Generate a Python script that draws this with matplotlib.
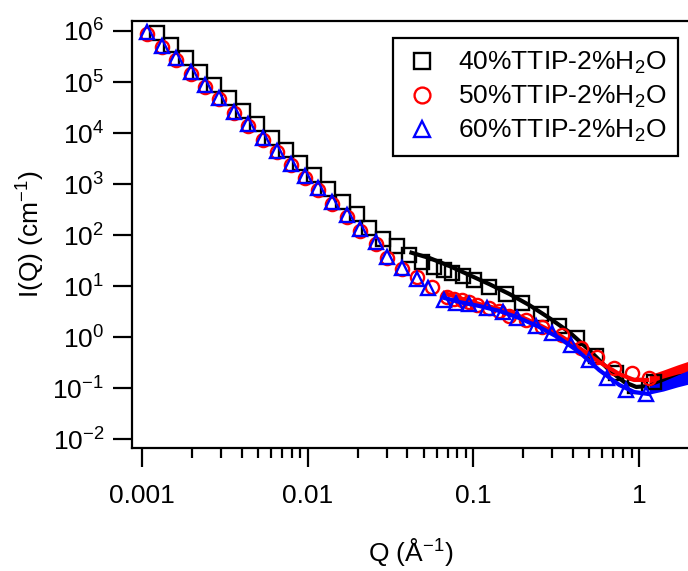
import numpy as np
import matplotlib
matplotlib.use("Agg")
import matplotlib.pyplot as plt
from matplotlib.ticker import FixedLocator, NullLocator, NullFormatter

plt.rcParams['font.family'] = ['Liberation Sans', 'DejaVu Sans']
plt.rcParams['mathtext.fontset'] = 'custom'
plt.rcParams['mathtext.rm'] = 'Liberation Sans'
plt.rcParams['mathtext.it'] = 'Liberation Sans'
plt.rcParams['mathtext.default'] = 'regular'

# 40%TTIP - squares
q_40 = [0.00123, 0.00150, 0.00184, 0.00224, 0.00271, 0.00334, 0.00406, 0.00493,
        0.00607, 0.00737, 0.00895, 0.01087, 0.01318, 0.01625, 0.01972, 0.0236,
        0.0283, 0.0344, 0.0411, 0.0493, 0.0582, 0.0669, 0.0747, 0.0870, 0.1014,
        0.1247, 0.158, 0.197, 0.257, 0.330, 0.424, 0.551, 0.727, 0.946, 1.231]
i_40 = [9.3e5, 5.2e5, 2.9e5, 1.6e5, 8.9e4, 4.75e4, 2.75e4, 1.53e4,
        8.15e3, 4.55e3, 2.64e3, 1.47e3, 815, 452, 262, 140,
        85, 62, 40.5, 29.6, 23.6, 20.6, 18.0, 15.4, 13.1,
        9.55, 6.97, 4.64, 2.82, 1.64, 0.955, 0.424, 0.197, 0.109, 0.131]

# 50%TTIP - circles
q_50 = [0.00107, 0.00132, 0.00160, 0.00197, 0.00240, 0.00291, 0.00358, 0.00435,
        0.00536, 0.00650, 0.00790, 0.00960, 0.01148, 0.01395, 0.01718, 0.02056,
        0.0257, 0.0303, 0.0373, 0.0454, 0.0566, 0.0697, 0.0768, 0.0848, 0.0946,
        0.1057, 0.1247, 0.1435, 0.165, 0.209, 0.261, 0.344, 0.448, 0.559, 0.707,
        0.908, 1.148]
i_50 = [8.9e5, 4.8e5, 2.7e5, 1.45e5, 8.1e4, 4.55e4, 2.45e4, 1.38e4,
        7.4e3, 4.15e3, 2.34e3, 1.32e3, 775, 412, 230, 122,
        68, 35, 21.5, 15.0, 9.5, 6.1, 5.6, 5.3, 4.85,
        4.24, 3.70, 3.24, 2.58, 2.15, 1.57, 1.09, 0.61, 0.405, 0.247,
        0.197, 0.157]

# 60%TTIP - triangles
q_60 = [0.00107, 0.00132, 0.00160, 0.00197, 0.00240, 0.00291, 0.00358, 0.00435,
        0.00536, 0.00650, 0.00790, 0.00960, 0.01148, 0.01395, 0.01718, 0.02056,
        0.0257, 0.0303, 0.0373, 0.0454, 0.0529, 0.0669, 0.0790, 0.0946, 0.121,
        0.150, 0.184, 0.240, 0.299, 0.389, 0.500, 0.641, 0.835, 1.10]
i_60 = [9.56e5, 5.15e5, 2.89e5, 1.56e5, 8.73e4, 4.90e4, 2.64e4, 1.48e4,
        7.98e3, 4.48e3, 2.52e3, 1.42e3, 835, 444, 247, 131,
        73, 37, 22.5, 13.7, 9.1, 5.3, 4.75, 4.4, 3.7,
        3.1, 2.36, 1.65, 1.20, 0.70, 0.354, 0.157, 0.091, 0.076]

# model fits
qf_40 = [0.0423, 0.0543, 0.0717, 0.0946, 0.1247, 0.165, 0.217, 0.287, 0.379,
         0.500, 0.659, 0.813, 0.960, 1.117]
if_40 = [45, 35.4, 24.7, 16.4, 10.9, 6.97, 4.24, 2.36, 1.25,
         0.556, 0.225, 0.131, 0.105, 0.109]
qf_50 = [0.0669, 0.0824, 0.1087, 0.1435, 0.189, 0.250, 0.330, 0.435, 0.574,
         0.759, 0.933, 1.117]
if_50 = [7.3, 5.82, 4.44, 3.54, 2.58, 1.72, 1.09, 0.61, 0.324,
         0.188, 0.144, 0.144]
qf_60 = [0.0669, 0.0824, 0.1087, 0.1435, 0.189, 0.250, 0.330, 0.435, 0.574,
         0.759, 0.933, 1.148]
if_60 = [5.82, 4.85, 4.05, 3.24, 2.36, 1.57, 0.955, 0.508, 0.225,
         0.115, 0.0835, 0.076]

# high-Q data (dense, noisy) shown as bands
q_hi = [1.15, 1.4, 1.7, 2.0]
lo_40 = [0.091, 0.109, 0.131, 0.157]
hi_40 = [0.137, 0.172, 0.215, 0.258]
lo_50 = [0.125, 0.157, 0.188, 0.206]
hi_50 = [0.180, 0.225, 0.283, 0.338]
lo_60 = [0.076, 0.0873, 0.105, 0.120]
hi_60 = [0.109, 0.137, 0.180, 0.225]

labels = ['40%TTIP-2%H$_2$O', '50%TTIP-2%H$_2$O', '60%TTIP-2%H$_2$O']
colors = ['black', 'red', 'blue']
markers = ['s', 'o', '^']

fig = plt.figure(figsize=(6.88, 5.71), dpi=100)
ax = fig.add_axes([132 / 688, 123 / 571, 557 / 688, 427 / 571])

series = [(q_40, i_40, qf_40, if_40, lo_40, hi_40),
          (q_50, i_50, qf_50, if_50, lo_50, hi_50),
          (q_60, i_60, qf_60, if_60, lo_60, hi_60)]

handles = []
for (q, i, qf, yf, lo, hi), c, m, lab in zip(series, colors, markers, labels):
    ax.fill_between(q_hi, lo, hi, color=c, lw=0)
    h, = ax.plot(q, i, ls='none', marker=m, ms=9.5, mfc='none', mec=c, mew=1.7, label=lab)
    ax.plot(qf, yf, color=c, lw=3)
    handles.append(h)

ax.set_xscale('log')
ax.set_yscale('log')
ax.set_xlim(10 ** -3.06, 10 ** 0.301)
ax.set_ylim(10 ** -2.176, 10 ** 6.196)

ax.set_xticks([0.001, 0.01, 0.1, 1])
ax.set_xticklabels(['0.001', '0.01', '0.1', '1'])
minor_x = [m * 10.0 ** k for k in range(-3, 0) for m in range(2, 10)]
ax.xaxis.set_minor_locator(FixedLocator(minor_x))
ax.xaxis.set_minor_formatter(NullFormatter())
ax.set_yticks([10.0 ** k for k in range(-2, 7)])
ax.yaxis.set_minor_locator(NullLocator())

ax.tick_params(axis='both', which='major', direction='out', length=14, width=1.6,
               labelsize=19, pad=12)
ax.tick_params(axis='x', which='minor', direction='out', length=7.5, width=1.6)
ax.tick_params(axis='y', pad=6)
for s in ['left', 'bottom', 'top']:
    ax.spines[s].set_linewidth(1.6)
ax.spines['right'].set_visible(False)

ax.set_xlabel('Q (Å$^{-1}$)', fontsize=19, labelpad=20)
ax.set_ylabel('I(Q) (cm$^{-1}$)', fontsize=19, labelpad=4)

leg = ax.legend(handles=handles, loc='upper right', bbox_to_anchor=(678 / 688, 533 / 571),
                bbox_transform=fig.transFigure, fontsize=19, frameon=True, fancybox=False,
                framealpha=1, edgecolor='black', borderaxespad=0, handletextpad=0.7,
                labelspacing=0.3, borderpad=0.45, handlelength=1.3, markerscale=1.2)
leg.get_frame().set_linewidth(1.6)

fig.savefig('out.png', dpi=100)
